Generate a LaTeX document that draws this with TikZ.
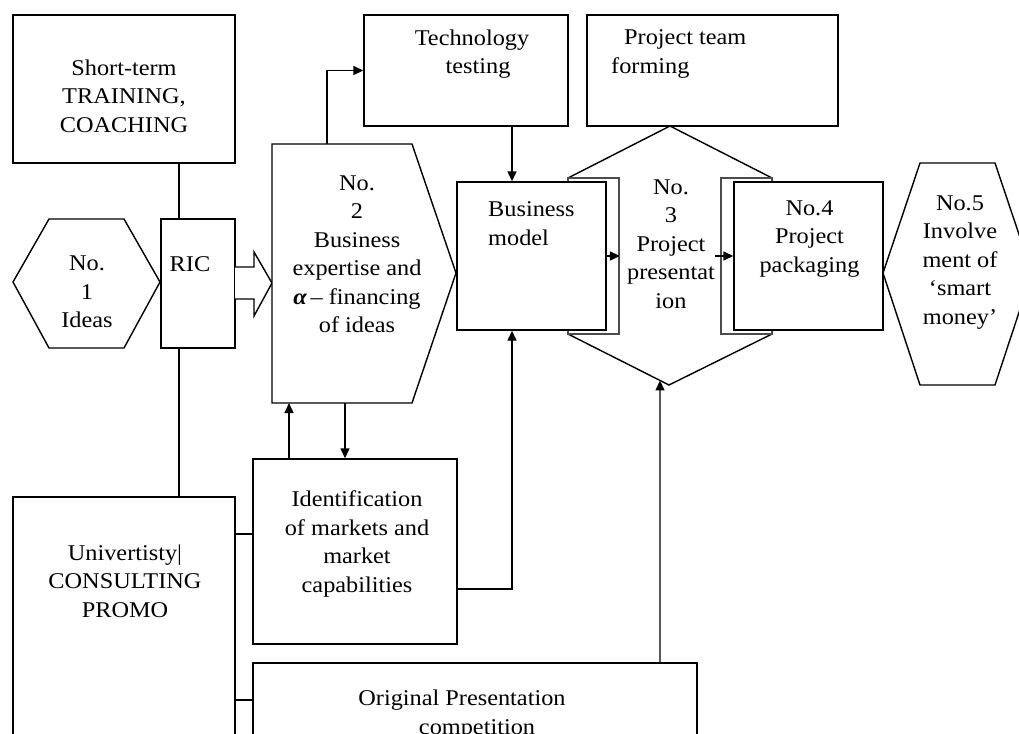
\documentclass[tikz,border=0pt]{standalone}
\usepackage{fontspec}
\setmainfont{Liberation Serif}[FakeStretch=1.08]
\usetikzlibrary{arrows.meta,calc}

\tikzset{
  box/.style={draw, fill=white, line width=1.4pt, inner sep=0pt, rectangle},
  outline/.style={draw, fill=white, line width=1.4pt, line join=miter},
  frame/.style={draw=black!70, fill=white, line width=1.8pt, inner sep=0pt, rectangle},
  txt/.style={font=\fontsize{22.5}{28.5}\selectfont, align=center, inner sep=0pt},
  ltxt/.style={font=\fontsize{22.5}{28.5}\selectfont, align=left, inner sep=0pt, anchor=north west},
  link/.style={line width=1.4pt},
  arr/.style={line width=1.4pt, -{Triangle[length=10pt,width=9pt]}},
}

\begin{document}
\begin{tikzpicture}[x=1pt,y=-1pt]
\clip (0,0) rectangle (1019,733);
\fill[white] (0,0) rectangle (1019,733);

% helper columns and rows for the connectors
\coordinate (x179) at (179,0);
\coordinate (x289) at (289,0);
\coordinate (x345) at (345,0);
\coordinate (x512) at (512,0);
\coordinate (x660) at (660,0);
\coordinate (y534) at (0,534);
\coordinate (y589) at (0,589);
\coordinate (y700) at (0,700);

% upper row of boxes
\node[box, minimum width=222pt, minimum height=148pt] (train) at (124,89) {};
\node[box, minimum width=204pt, minimum height=111pt] (tech) at (466,70.5) {};
\node[box, minimum width=251pt, minimum height=111pt] (team) at (712.5,70.5) {};

% stage 3: hexagon with the two side frames
\coordinate (h3t)  at (670,126);
\coordinate (h3ul) at (568,178);
\coordinate (h3ll) at (568,334);
\coordinate (h3b)  at (669,385);
\coordinate (h3lr) at (772,334);
\coordinate (h3ur) at (772,178);
\path[outline] (h3t) -- (h3ul) -- (h3ll) -- (h3b) -- (h3lr) -- (h3ur) -- cycle;
\coordinate (h3hit) at ($(h3ll)!0.911!(h3b)$);
\node[frame, minimum width=51pt, minimum height=156pt] (fl) at (593.5,256) {};
\node[frame, minimum width=51pt, minimum height=156pt] (fr) at (746.5,256) {};

\node[box, minimum width=149pt, minimum height=148pt] (bm) at (531.5,256) {};
\node[box, minimum width=149pt, minimum height=148pt] (pack) at (808.5,256) {};

% stage 1: ideas hexagon and RIC
\path[outline] (13,282) -- (49,219) -- (124,219) -- (160,282) -- (124,348) -- (49,348) -- cycle;
\node[box, minimum width=74pt, minimum height=129pt] (ric) at (198,283.5) {};
\draw[link, fill=white, line join=miter] (235,267) -- (254,267) -- (254,252) -- (272,283)
  -- (254,316) -- (254,299) -- (235,299);

% stage 2: pentagon
\coordinate (n2top) at (327,144);
\coordinate (n2b) at (342,403);
\path[outline] (272,144) -- (412,144) -- (456,273) -- (412,403) -- (272,403) -- cycle;

% stage 5 hexagon
\path[outline] (883,273) -- (920,163) -- (995,163) -- (1032,273) -- (995,385) -- (920,385) -- cycle;

% lower boxes
\node[box, minimum width=204pt, minimum height=185pt] (ident) at (355,551.5) {};
\node[box, minimum width=444pt, minimum height=97pt] (orig) at (475,711.5) {};
\node[box, minimum width=222pt, minimum height=263pt] (univ) at (124,628.5) {};

% connectors
\draw[link] (train.south -| x179) -- (ric.north -| x179);
\draw[link] (ric.south -| x179) -- (univ.north -| x179);
\draw[arr] (n2top) |- (tech.west);
\draw[arr] (tech.south -| x512) -- (bm.north -| x512);
\draw[arr] (ident.north -| x289) -- (n2b -| x289);
\draw[arr] (n2b -| x345) -- (ident.north -| x345);
\draw[arr] (ident.east |- y589) -| (bm.south -| x512);
\draw[arr] (orig.north -| x660) -- (h3hit);
\draw[link] (univ.east |- y534) -- (ident.west |- y534);
\draw[link] (univ.east |- y700) -- (orig.west |- y700);
\draw[arr] (bm.east) -- (fl.east);
\draw[arr] ([xshift=-5pt]fr.west) -- (pack.west);

% texts
\node[txt] (ttrain) at (124,96) {Short-term\\TRAINING,\\COACHING};
\node[txt] (tric) at (190,264) {RIC};
\node[txt] (tidea) at (87,292) {No.\\1\\Ideas};
\node[txt] (tn2) at (357,254) {No.\\2\\Business\\expertise and\\{\bfseries\itshape α}\,– financing\\of ideas};
\node[txt] (ttech) at (472,54) {Technology\\\hspace*{12pt}testing};
\node[ltxt] (tteam) at (611,29.5) {\hspace*{13pt}Project team\\forming};
\node[ltxt] (tbm) at (488,201.5) {Business\\model};
\node[txt] (tn3) at (671,244) {No.\\3\\Project\\presentat\\ion};
\node[txt] (tpack) at (809.5,239) {No.4\\Project\\packaging};
\node[txt] (tn5) at (960,262.5) {No.5\\Involve\\ment of\\‘smart\\money’};
\node[txt] (tident) at (357,544) {Identification\\of markets and\\market\\capabilities};
\node[txt, anchor=north] (torig) at (462,690) {Original Presentation\\\hspace*{30pt}competition};
\node[txt] (tuniv) at (125,581) {Univertisty|\\CONSULTING\\PROMO};
\end{tikzpicture}
\end{document}
